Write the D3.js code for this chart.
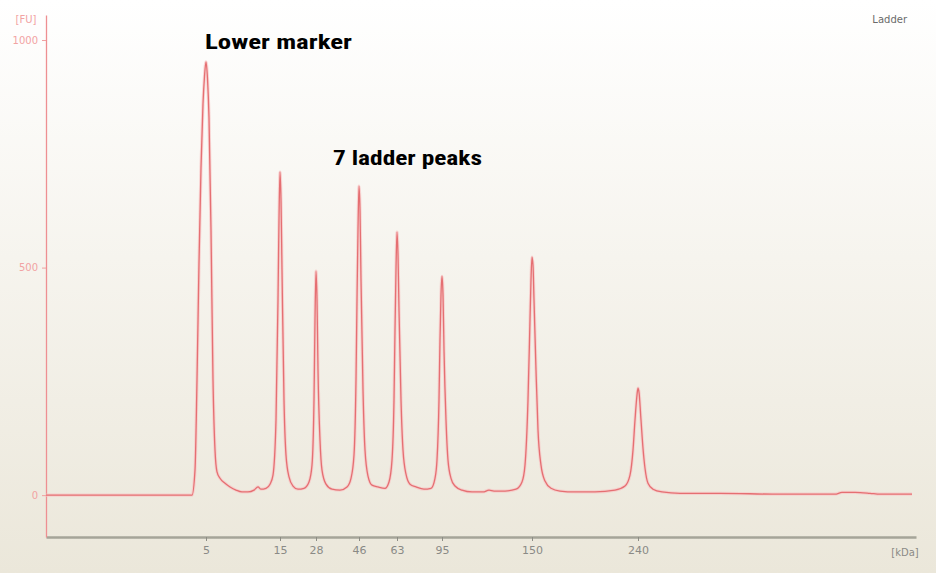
<!DOCTYPE html>
<html>
<head>
<meta charset="utf-8">
<script src="https://cdn.jsdelivr.net/npm/d3@7"></script>
<style>
  html, body { margin: 0; padding: 0; background: #fff; }
  svg { display: block; }
</style>
</head>
<body>
<svg id="chart" width="936" height="573"></svg>
<script>
// ---- Data ----
// Migration time (arbitrary units) of ladder peaks and their size labels (kDa)
const ladderTimes = [16.0, 23.4, 27.0, 31.3, 35.1, 39.6, 48.6, 59.2];
const ladderLabels = ["5", "15", "28", "46", "63", "95", "150", "240"];
const yTicks = [0, 500, 1000];

// Electropherogram trace: time and fluorescence (FU)
const traceTime = [
  0, 5.4, 10.4, 14.6,
  14.9, 15.1, 15.3, 15.5, 15.7, 15.85, 16.0, 16.15, 16.3, 16.5, 16.7, 16.9, 17.1, 17.4, 17.9, 18.4, 19.0, 19.6, 20.2, 20.8, 21.2, 21.5, 22.0, 22.4,
  22.7, 23.0, 23.2, 23.3, 23.4, 23.5, 23.6, 23.8, 24.0, 24.3, 24.7, 25.2, 25.8, 26.3,
  26.6, 26.8, 26.9, 27.0, 27.1, 27.2, 27.4, 27.6, 28.0, 28.6, 29.4, 30.1, 30.5,
  30.8, 31.0, 31.1, 31.2, 31.3, 31.4, 31.5, 31.7, 31.9, 32.2, 32.6, 33.2, 33.9, 34.3,
  34.6, 34.8, 34.9, 35.0, 35.1, 35.2, 35.3, 35.5, 35.7, 36.0, 36.4, 37.0, 37.8, 38.5, 38.9,
  39.1, 39.3, 39.4, 39.5, 39.6, 39.7, 39.8, 40.0, 40.2, 40.5, 40.9, 41.6, 42.6, 43.7, 44.3, 44.8, 45.9, 47.0, 47.6,
  47.9, 48.2, 48.4, 48.5, 48.6, 48.7, 48.8, 49.0, 49.2, 49.5, 49.9, 50.5, 51.4, 52.9, 54.9, 56.9, 57.9,
  58.4, 58.7, 58.9, 59.1, 59.2, 59.3, 59.5, 59.7, 59.9, 60.2, 60.7, 61.6, 63.4, 67.4, 73.4, 78.9, 79.6, 80.9, 82.4, 83.4, 86.6
];
const traceFU = [
  0, 0, 0, 0,
  55, 253, 510, 720, 860, 920, 952, 915, 830, 582, 253, 99, 51, 37, 26, 18, 11, 7, 7, 11, 18, 13, 15, 24,
  44, 165, 429, 604, 710, 648, 495, 209, 88, 40, 20, 13, 15, 29,
  66, 209, 385, 492, 429, 275, 121, 55, 24, 13, 11, 18, 37,
  88, 253, 429, 582, 679, 626, 473, 231, 99, 42, 22, 18, 15, 29,
  77, 209, 363, 495, 578, 527, 407, 209, 99, 46, 24, 18, 13, 15, 37,
  77, 209, 341, 440, 481, 440, 319, 165, 77, 37, 20, 11, 7, 7, 11, 9, 9, 13, 29,
  66, 209, 385, 473, 523, 505, 429, 275, 143, 66, 31, 15, 9, 7, 7, 11, 20,
  44, 99, 165, 220, 235, 226, 165, 103, 59, 26, 13, 7, 4, 4, 2, 2, 6, 6, 4, 2, 2
];

// ---- Layout ----
const W = 936, H = 573;
const plotLeft = 46, plotRight = 916, plotTop = 15, plotBottom = 537;

const svg = d3.select("#chart");

// background gradient
const defs = svg.append("defs");
const grad = defs.append("linearGradient").attr("id", "bg").attr("x1", 0).attr("y1", 0).attr("x2", 0).attr("y2", 1);
grad.append("stop").attr("offset", "0%").attr("stop-color", "#ffffff");
grad.append("stop").attr("offset", "45%").attr("stop-color", "#f6f4ee");
grad.append("stop").attr("offset", "100%").attr("stop-color", "#ebe7da");
svg.append("rect").attr("width", W).attr("height", H).attr("fill", "url(#bg)");

const x = d3.scaleLinear().domain([0, 87]).range([plotLeft, plotRight]);
const y = d3.scaleLinear().domain([-92, 1055]).range([plotBottom, plotTop]);

// x axis
const xAxis = d3.axisBottom(x)
  .tickValues(ladderTimes)
  .tickFormat((d, i) => ladderLabels[i])
  .tickSize(4)
  .tickSizeOuter(0);
const gx = svg.append("g").attr("transform", `translate(0,${plotBottom})`).call(xAxis);
gx.select(".domain").attr("stroke", "#a5a498").attr("stroke-width", 2.5);
gx.selectAll(".tick line").attr("stroke", "#8d8d85");
gx.selectAll(".tick text").attr("fill", "#8a8a86").attr("font-family", "DejaVu Sans, sans-serif")
  .attr("font-size", 11).attr("dy", "0.9em");

svg.append("text").attr("x", 905).attr("y", 556).attr("text-anchor", "middle")
  .attr("fill", "#8a8a86").attr("font-family", "DejaVu Sans, sans-serif").attr("font-size", 10)
  .text("[kDa]");

// y axis
const yAxis = d3.axisLeft(y).tickValues(yTicks).tickSize(4).tickSizeOuter(0).tickFormat(d3.format("d"));
const gy = svg.append("g").attr("transform", `translate(${plotLeft},0)`).call(yAxis);
gy.select(".domain").attr("stroke", "#ee8f92").attr("stroke-width", 1.3);
gy.selectAll(".tick line").attr("stroke", "#f0a0a0");
gy.selectAll(".tick text").attr("fill", "#f2a3a3").attr("font-family", "DejaVu Sans, sans-serif")
  .attr("font-size", 10).attr("dx", "-1");

svg.append("text").attr("x", 26).attr("y", 23).attr("text-anchor", "middle")
  .attr("fill", "#f2a3a3").attr("font-family", "DejaVu Sans, sans-serif").attr("font-size", 10)
  .text("[FU]");

// "Ladder" label
svg.append("text").attr("x", 907).attr("y", 23).attr("text-anchor", "end")
  .attr("fill", "#6a6a6a").attr("font-family", "DejaVu Sans, sans-serif").attr("font-size", 10)
  .text("Ladder");

// trace
const pts = traceTime.map((t, i) => [t, traceFU[i]]);
const line = d3.line().x(d => x(d[0])).y(d => y(d[1])).curve(d3.curveMonotoneX);

svg.append("path").datum(pts).attr("d", line).attr("fill", "none")
  .attr("stroke", "#f8c4c4").attr("stroke-width", 3.2).attr("stroke-linejoin", "round").attr("opacity", 0.7);
svg.append("path").datum(pts).attr("d", line).attr("fill", "none")
  .attr("stroke", "#e56f72").attr("stroke-width", 1.3).attr("stroke-linejoin", "round");

// annotations
const annoFont = "'Liberation Sans Narrow', 'Arial Narrow', 'Roboto Condensed', sans-serif";
svg.append("text").attr("x", 205).attr("y", 49)
  .attr("font-family", annoFont).attr("font-weight", "bold").attr("font-size", 21)
  .attr("textLength", 147).attr("lengthAdjust", "spacingAndGlyphs")
  .attr("fill", "#000").text("Lower marker");
svg.append("text").attr("x", 333).attr("y", 165)
  .attr("font-family", annoFont).attr("font-weight", "bold").attr("font-size", 21)
  .attr("textLength", 149).attr("lengthAdjust", "spacingAndGlyphs")
  .attr("fill", "#000").text("7 ladder peaks");
</script>
</body>
</html>
